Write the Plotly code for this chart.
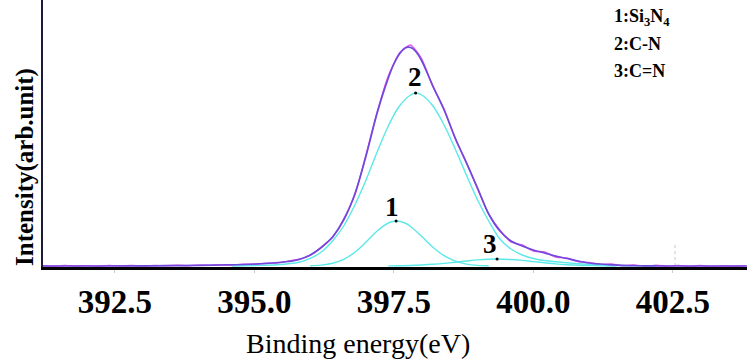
import plotly.graph_objects as go

# N 1s XPS spectrum: binding energy (eV) vs intensity (arb. units)
tick_vals = [392.5, 395.0, 397.5, 400.0, 402.5]
tick_text = ["392.5", "395.0", "397.5", "400.0", "402.5"]

# measured spectrum
raw_e = [391.2, 391.4, 391.6, 391.8, 392.0, 392.2, 392.4, 392.6, 392.8, 393.0,
         393.2, 393.4, 393.6, 393.8, 394.0, 394.2, 394.4, 394.6, 394.8, 395.0,
         395.2, 395.4, 395.6, 395.8, 396.0, 396.2, 396.4, 396.6, 396.8, 397.0,
         397.2, 397.4, 397.6, 397.8, 398.0, 398.2, 398.4, 398.6, 398.8, 399.0,
         399.2, 399.4, 399.6, 399.8, 400.0, 400.2, 400.4, 400.6, 400.8, 401.0,
         401.2, 401.4, 401.6, 401.8, 402.0, 402.2, 402.4, 402.6, 402.8, 403.0,
         403.2, 403.4, 403.6, 403.8]
raw_i = [0.3, -0.3, 0.5, 0, 0.4, -0.2, 0.6, 0.1, 0.5, -0.1,
         0.6, 0.2, 0.8, 0.3, 0.9, 0.6, 1.3, 1.0, 1.8, 1.7,
         2.8, 3.0, 4.8, 6.8, 10.5, 19, 28.5, 47, 71, 111,
         154, 190, 213, 221, 207, 179, 157, 127, 104, 77,
         52, 36, 24, 21, 15, 14, 9, 8, 4.5, 3.5,
         1.5, 2, 0.2, 1, -0.5, 0.8, -0.3, 0.6, -0.4, 0.5,
         -0.5, 0.3, -0.3, 0.2]

# isolated noise spike near 402.5 eV
spike_e = [402.54, 402.54]
spike_i = [0, 22]

# fitted envelope
fit_e = [391.2, 392.0, 392.8, 393.4, 394.0, 394.4, 394.8, 395.2, 395.6, 395.8,
         396.0, 396.2, 396.4, 396.6, 396.8, 397.0, 397.2, 397.4, 397.5, 397.6,
         397.7, 397.8, 397.9, 398.0, 398.2, 398.4, 398.6, 398.8, 399.0, 399.2,
         399.4, 399.6, 399.8, 400.0, 400.2, 400.4, 400.6, 400.8, 401.0, 401.2,
         401.4, 401.6, 402.0, 402.4, 403.83]
fit_i = [0, 0, 0.1, 0.3, 0.6, 1.0, 1.5, 2.5, 4.5, 6.5,
         11, 18.5, 29, 46, 72, 110, 153, 188, 202, 212,
         218, 218.5, 214, 205, 180, 156, 128, 103, 78, 52,
         35, 25, 20, 16, 13, 10, 7.5, 5, 3, 2,
         1.2, 0.6, 0.2, 0, 0]

# component 1: Si3N4
p1_e = [396.0, 396.2, 396.4, 396.6, 396.8, 397.0, 397.2, 397.4, 397.54, 397.7,
        397.8, 398.0, 398.2, 398.4, 398.6, 398.8, 399.0, 399.2]
p1_i = [0.3, 0.9, 2.7, 6.6, 13.7, 23.9, 35, 43, 45, 43,
        39.5, 29.5, 18.8, 10.3, 4.8, 1.9, 0.6, 0.2]

# component 2: C-N
p2_e = [394.6, 395.0, 395.4, 395.8, 396.0, 396.2, 396.4, 396.6, 396.8, 397.0,
        397.2, 397.4, 397.6, 397.8, 397.89, 398.0, 398.2, 398.4, 398.6, 398.8,
        399.0, 399.2, 399.4, 399.6, 399.8, 400.0, 400.2, 400.4, 400.6, 400.8,
        401.0, 401.2, 401.4, 401.8, 402.2]
p2_i = [0, 0.5, 1.2, 3.8, 7.6, 14, 25, 40, 61, 86,
        114, 140, 160, 171, 173, 171, 160, 141, 117, 91,
        66, 45, 27, 17, 11, 7.5, 5.5, 4.2, 3.2, 2.3,
        1.6, 1.0, 0.6, 0.2, 0]

# component 3: C=N
p3_e = [397.4, 397.6, 397.8, 398.0, 398.2, 398.4, 398.6, 398.8, 399.0, 399.2,
        399.35, 399.6, 399.8, 400.0, 400.2, 400.4, 400.6, 400.8, 401.0, 401.2,
        401.5]
p3_i = [0.1, 0.26, 0.5, 1.0, 1.7, 2.6, 3.8, 5.0, 6.1, 6.8,
        7, 6.5, 5.6, 4.4, 3.2, 2.1, 1.3, 0.7, 0.4, 0.2,
        0]

peak_labels = ["1", "2", "3"]
peak_e = [397.54, 397.89, 399.35]
peak_i = [45, 173, 7]
label_e = [397.46, 397.88, 399.22]
label_i = [59, 189, 22]

legend_lines = ["1:Si<sub>3</sub>N<sub>4</sub>", "2:C-N", "3:C=N"]

PURPLE = "#7048dc"
MAGENTA = "#e455ea"
CYAN = "#5ce8e8"
SERIF = "Liberation Serif, Times New Roman, serif"

fig = go.Figure()
fig.add_trace(go.Scatter(x=spike_e, y=spike_i, mode="lines",
                         line=dict(color="#c8c8c8", width=1, dash="dot")))
fig.add_trace(go.Scatter(x=raw_e, y=raw_i, mode="lines",
                         line=dict(color=MAGENTA, width=1.4, shape="spline", smoothing=0.5)))
for xs, ys in [(p1_e, p1_i), (p2_e, p2_i), (p3_e, p3_i)]:
    fig.add_trace(go.Scatter(x=xs, y=ys, mode="lines",
                             line=dict(color=CYAN, width=1.4, shape="spline", smoothing=1.0)))
fig.add_trace(go.Scatter(x=fit_e, y=fit_i, mode="lines",
                         line=dict(color=PURPLE, width=1.7, shape="spline", smoothing=1.0)))
fig.add_trace(go.Scatter(x=peak_e, y=peak_i, mode="markers",
                         marker=dict(color="black", size=3)))

for t, xe, yi in zip(peak_labels, label_e, label_i):
    fig.add_annotation(x=xe, y=yi, xref="x", yref="y", text=t, showarrow=False,
                       font=dict(family=SERIF, size=27, color="black", weight="bold"),
                       xanchor="center", yanchor="middle")

W, H = 747, 362
L, R, T, B = 43, 0, 0, 95
pw, ph = W - L - R, H - T - B


def px(x):
    return (x - L) / pw


def py(y):
    return (H - B - y) / ph


for i, t in enumerate(legend_lines):
    fig.add_annotation(x=px(612), y=py(17 + 27 * i), xref="paper", yref="paper",
                       text=t, showarrow=False, xanchor="left", yanchor="middle",
                       font=dict(family=SERIF, size=18, color="black", weight="bold"))

fig.add_annotation(x=px(358), y=py(343), xref="paper", yref="paper",
                   text="Binding energy(eV)", showarrow=False,
                   xanchor="center", yanchor="middle",
                   font=dict(family=SERIF, size=28, color="black"))
fig.add_annotation(x=px(25), y=py(167), xref="paper", yref="paper",
                   text="Intensity(arb.unit)", showarrow=False, textangle=-90,
                   xanchor="center", yanchor="middle",
                   font=dict(family=SERIF, size=25, color="black", weight="bold"))

fig.update_xaxes(range=[391.21, 403.83], tickvals=tick_vals, ticktext=tick_text,
                 showgrid=False, zeroline=False, showline=True, linecolor="black",
                 linewidth=3, ticks="outside", ticklen=3, tickcolor="#cccccc",
                 tickfont=dict(family=SERIF, size=33, color="black", weight="bold"))
fig.update_yaxes(range=[-1, 266], showgrid=False, zeroline=False, showline=True,
                 linecolor="#1c1c3a", linewidth=2, showticklabels=False, ticks="")

fig.update_layout(width=W, height=H, margin=dict(l=L, r=R, t=T, b=B),
                  plot_bgcolor="white", paper_bgcolor="white", showlegend=False)

fig.write_html("out.html")
